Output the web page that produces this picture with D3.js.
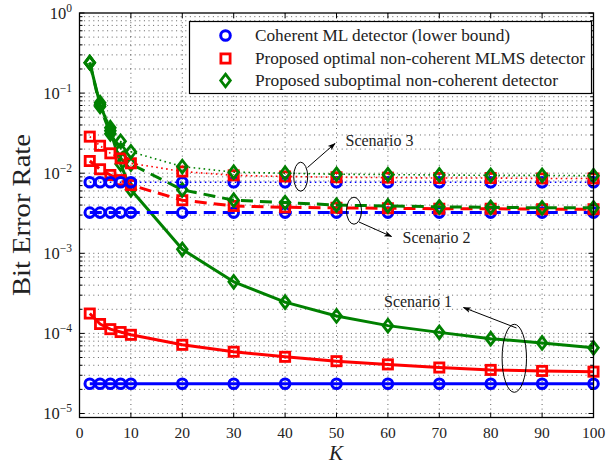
<!DOCTYPE html>
<html><head><meta charset="utf-8">
<script src="https://cdn.jsdelivr.net/npm/d3@7"></script>
<style>body{margin:0;background:#fff}svg{display:block}</style>
</head><body>
<script>
// ---- data ----
const K = [2,4,6,8,10,20,30,40,50,60,70,80,90,100];
// Scenario 1 (solid)
const coh1  = [2.35e-5,2.35e-5,2.35e-5,2.35e-5,2.35e-5,2.35e-5,2.35e-5,2.35e-5,2.35e-5,2.35e-5,2.35e-5,2.35e-5,2.35e-5,2.35e-5];
const opt1  = [1.77e-4,1.31e-4,1.13e-4,1.04e-4,9.6e-5,7.2e-5,5.9e-5,5.1e-5,4.5e-5,4.1e-5,3.75e-5,3.5e-5,3.4e-5,3.33e-5];
const sub1  = [0.24,0.072,0.034,0.013,0.0062,1.12e-3,4.4e-4,2.46e-4,1.65e-4,1.25e-4,1.03e-4,8.6e-5,7.6e-5,6.6e-5];
// Scenario 2 (dashed)
const coh2  = [3.22e-3,3.22e-3,3.22e-3,3.22e-3,3.22e-3,3.22e-3,3.22e-3,3.22e-3,3.22e-3,3.22e-3,3.22e-3,3.22e-3,3.22e-3,3.22e-3];
const opt2  = [0.0142,0.0112,9.5e-3,8.2e-3,7.1e-3,4.6e-3,3.9e-3,3.75e-3,3.7e-3,3.65e-3,3.6e-3,3.6e-3,3.55e-3,3.55e-3];
const sub2  = [0.24,0.068,0.031,0.0195,0.013,6.2e-3,4.6e-3,4.3e-3,4.0e-3,3.9e-3,3.8e-3,3.75e-3,3.7e-3,3.7e-3];
// Scenario 3 (dotted)
const coh3  = [7.7e-3,7.7e-3,7.7e-3,7.7e-3,7.7e-3,7.7e-3,7.7e-3,7.7e-3,7.7e-3,7.7e-3,7.7e-3,7.7e-3,7.7e-3,7.7e-3];
const opt3  = [0.0286,0.022,0.0177,0.0153,0.0133,0.0105,0.0094,0.0091,0.0089,0.0088,0.0087,0.0087,0.0086,0.0086];
const sub3  = [0.24,0.076,0.037,0.025,0.0185,0.0121,0.0103,0.0100,0.0097,0.0096,0.0095,0.0094,0.0094,0.0093];

const xTicks = [0,10,20,30,40,50,60,70,80,90,100];
const yExps = [0,-1,-2,-3,-4,-5];
const legendLabels = ["Coherent ML detector (lower bound)","Proposed optimal non-coherent MLMS detector","Proposed suboptimal non-coherent detector"];
const scenarioLabels = ["Scenario 1","Scenario 2","Scenario 3"];
const yLabel = "Bit Error Rate";
const xLabel = "K";

// ---- layout ----
const W = 616, H = 464;
const L = 79.5, R = 593.5, T = 13, B = 417.5;
const serif = "'Liberation Serif','DejaVu Serif',serif";
const svg = d3.select("body").append("svg").attr("width", W).attr("height", H);

const x = d3.scaleLinear().domain([0,100]).range([L,R]);
const y = d3.scaleLog().domain([Math.pow(10,-5.05),1]).range([B,T]);

// grid
const grid = svg.append("g").attr("stroke","#3a3a3a").attr("stroke-width",0.8).attr("stroke-dasharray","1,3.6");
xTicks.forEach(t=>{ if(t>0&&t<100) grid.append("line").attr("x1",x(t)).attr("x2",x(t)).attr("y1",T).attr("y2",B); });
const yGridVals = [];
for (let e=-5;e<0;e++) for (let m=1;m<10;m++) yGridVals.push(m*Math.pow(10,e));
yGridVals.forEach(v=>{ grid.append("line").attr("x1",L).attr("x2",R).attr("y1",y(v)).attr("y2",y(v)); });

// series
const colors = {coh:"#0000ff", opt:"#ff0000", sub:"#008000"};
const styles = [
  {w:3, dash:null},
  {w:3, dash:"12,7"},
  {w:1.6, dash:"1.6,3.4"}
];
const series = [
  {v:coh1,c:"coh",s:0},{v:opt1,c:"opt",s:0},{v:sub1,c:"sub",s:0},
  {v:coh2,c:"coh",s:1},{v:opt2,c:"opt",s:1},{v:sub2,c:"sub",s:1},
  {v:coh3,c:"coh",s:2},{v:opt3,c:"opt",s:2},{v:sub3,c:"sub",s:2}
];
const line = d3.line().x(d=>x(d[0])).y(d=>y(d[1]));
const plot = svg.append("g");

function marker(g, type, cx, cy, col){
  if(type==="coh") g.append("circle").attr("cx",cx).attr("cy",cy).attr("r",4.8).attr("fill","none").attr("stroke",col).attr("stroke-width",3);
  else if(type==="opt") g.append("rect").attr("x",cx-4.6).attr("y",cy-4.6).attr("width",9.2).attr("height",9.2).attr("fill","none").attr("stroke",col).attr("stroke-width",2.8);
  else g.append("path").attr("d",`M${cx},${cy-6.3}L${cx+4.8},${cy}L${cx},${cy+6.3}L${cx-4.8},${cy}Z`).attr("fill","none").attr("stroke",col).attr("stroke-width",2.8);
}

series.forEach(sr=>{
  const st = styles[sr.s];
  const pts = K.map((k,i)=>[k,sr.v[i]]);
  const p = plot.append("path").attr("d",line(pts)).attr("fill","none")
    .attr("stroke",colors[sr.c]).attr("stroke-width",st.w).attr("stroke-linejoin","round");
  if(st.dash) p.attr("stroke-dasharray",st.dash);
  pts.forEach(d=>marker(plot, sr.c, x(d[0]), y(d[1]), colors[sr.c]));
});

// axes box & ticks
const ax = svg.append("g").attr("stroke","#000");
ax.append("rect").attr("x",L).attr("y",T).attr("width",R-L).attr("height",B-T).attr("fill","none").attr("stroke-width",1.3);
xTicks.forEach(t=>{
  ax.append("line").attr("x1",x(t)).attr("x2",x(t)).attr("y1",B).attr("y2",B-5).attr("stroke-width",1);
  ax.append("line").attr("x1",x(t)).attr("x2",x(t)).attr("y1",T).attr("y2",T+5).attr("stroke-width",1);
});
yGridVals.concat([1]).forEach(v=>{
  const major = Math.abs(Math.log10(v)-Math.round(Math.log10(v)))<1e-9;
  const len = major?5:3;
  ax.append("line").attr("x1",L).attr("x2",L+len).attr("y1",y(v)).attr("y2",y(v)).attr("stroke-width",1);
  ax.append("line").attr("x1",R).attr("x2",R-len).attr("y1",y(v)).attr("y2",y(v)).attr("stroke-width",1);
});

// tick labels
const tl = svg.append("g").attr("font-family",serif).attr("fill","#222");
xTicks.forEach(t=>{
  tl.append("text").attr("x",x(t)).attr("y",437.5).attr("text-anchor","middle").attr("font-size",15.5).text(t);
});
yExps.forEach(e=>{
  const t = tl.append("text").attr("x",72).attr("y",y(Math.pow(10,e))+5.5).attr("text-anchor","end").attr("font-size",16.5);
  t.append("tspan").text("10");
  t.append("tspan").attr("dy",-7).attr("font-size",11.5).text(e===0?"0":"\u2212"+Math.abs(e));
});

// axis labels
svg.append("text").attr("transform","translate(30,215) rotate(-90)").attr("text-anchor","middle")
  .attr("font-family",serif).attr("font-size",25).attr("fill","#222")
  .attr("textLength",162).attr("lengthAdjust","spacingAndGlyphs").text(yLabel);
svg.append("text").attr("x",336).attr("y",459.5).attr("text-anchor","middle")
  .attr("font-family",serif).attr("font-style","italic").attr("font-size",21).attr("fill","#222").text(xLabel);

// legend
const lg = svg.append("g");
lg.append("rect").attr("x",189.5).attr("y",21.5).attr("width",402).attr("height",72).attr("fill","#fff").attr("stroke","#000").attr("stroke-width",1.2);
const lgTypes = ["coh","opt","sub"], lgY = [35.5,58.5,80.5], lgW = [255,330,303];
lgTypes.forEach((tp,i)=>{
  marker(lg, tp, 225.5, lgY[i], colors[tp]);
  lg.append("text").attr("x",255).attr("y",lgY[i]+5.5).attr("font-family",serif).attr("font-size",17.5).attr("fill","#222")
    .attr("textLength",lgW[i]).attr("lengthAdjust","spacingAndGlyphs").text(legendLabels[i]);
});

// annotations
const an = svg.append("g");
const defs = svg.append("defs");
defs.append("marker").attr("id","ah").attr("viewBox","0 0 10 10").attr("refX",9).attr("refY",5)
  .attr("markerWidth",8).attr("markerHeight",8).attr("orient","auto-start-reverse")
  .append("path").attr("d","M0,1.5L10,5L0,8.5L2.5,5Z").attr("fill","#000");
const ann = [
  {el:[514.3,358.3,12.2,34], a:[516.5,328,463.5,307.5], t:[418,307], i:0},
  {el:[354,210.7,7.5,13.5], a:[359,222,391.5,236.5], t:[436.5,242.5], i:1},
  {el:[300.7,176.7,7,14.5], a:[307.5,167.5,335,143.5], t:[379.5,145.5], i:2}
];
ann.forEach(o=>{
  an.append("ellipse").attr("cx",o.el[0]).attr("cy",o.el[1]).attr("rx",o.el[2]).attr("ry",o.el[3])
    .attr("fill","none").attr("stroke","#000").attr("stroke-width",1);
  an.append("line").attr("x1",o.a[0]).attr("y1",o.a[1]).attr("x2",o.a[2]).attr("y2",o.a[3])
    .attr("stroke","#000").attr("stroke-width",1).attr("marker-end","url(#ah)");
  an.append("text").attr("x",o.t[0]).attr("y",o.t[1]).attr("text-anchor","middle")
    .attr("font-family",serif).attr("font-size",16).attr("fill","#222").text(scenarioLabels[o.i]);
});
</script>
</body></html>
